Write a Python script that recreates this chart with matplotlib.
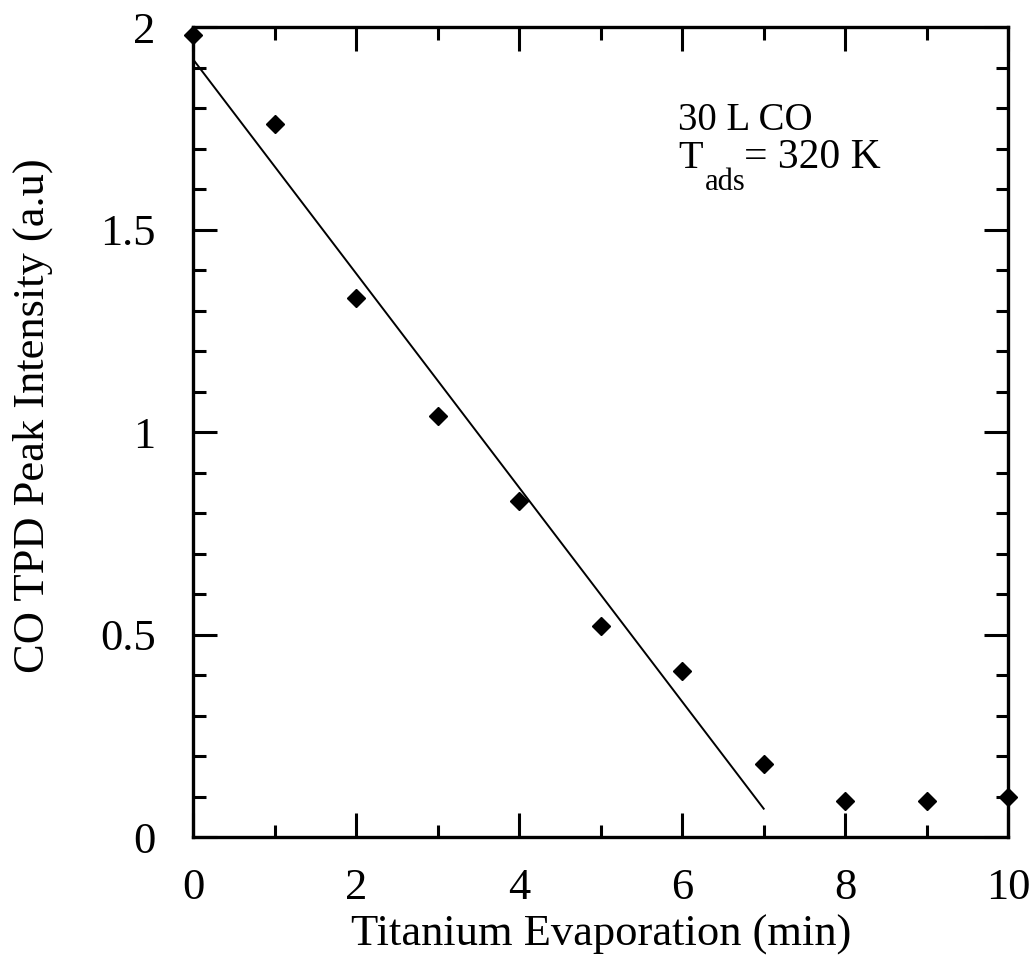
import numpy as np
import matplotlib.pyplot as plt
from matplotlib.ticker import MultipleLocator, FuncFormatter

plt.rcParams['font.family'] = ['Liberation Serif', 'DejaVu Serif']

# data
evap_time = [0, 1, 2, 3, 4, 5, 6, 7, 8, 9, 10]
peak_intensity = [1.98, 1.76, 1.33, 1.04, 0.83, 0.52, 0.41, 0.18, 0.09, 0.09, 0.10]

# linear fit drawn in the figure
fit_x = [0, 7]
fit_y = [1.92, 0.07]

fig = plt.figure(figsize=(10.33, 9.66), dpi=100)
ax = fig.add_axes([0.187, 0.1335, 0.789, 0.8385])

ax.plot(fit_x, fit_y, color='black', lw=1.4)
ax.plot(evap_time, peak_intensity, 'D', color='black', markersize=9.5, clip_on=False, zorder=5)

ax.set_xlim(0, 10)
ax.set_ylim(0, 2)
ax.xaxis.set_major_locator(MultipleLocator(2))
ax.xaxis.set_minor_locator(MultipleLocator(1))
ax.yaxis.set_major_locator(MultipleLocator(0.5))
ax.yaxis.set_minor_locator(MultipleLocator(0.1))
ax.yaxis.set_major_formatter(FuncFormatter(lambda v, p: '%g' % v))

ax.tick_params(which='both', direction='in', top=True, right=True, width=2.2, labelsize=32)
ax.tick_params(which='major', length=17)
ax.tick_params(which='minor', length=9)
ax.tick_params(axis='x', which='both', pad=22)
ax.tick_params(axis='y', which='both', pad=27)
for s in ax.spines.values():
    s.set_linewidth(2.4)

ax.set_xlabel('Titanium Evaporation (min)', fontsize=32)
ax.set_ylabel('CO TPD Peak Intensity (a.u)', fontsize=32)
ax.xaxis.set_label_coords(0.5, -0.096)
ax.yaxis.set_label_coords(-0.172, 0.52)

# annotation
ax.text(5.95, 1.746, '30 L CO', fontsize=28, va='baseline', ha='left')
ax.text(5.95, 1.652, 'T', fontsize=29, va='baseline', ha='left')
ax.text(6.28, 1.598, 'ads', fontsize=22, va='baseline', ha='left')
ax.text(6.76, 1.652, '= 320 K', fontsize=30, va='baseline', ha='left')

fig.savefig('out.png', dpi=100)
